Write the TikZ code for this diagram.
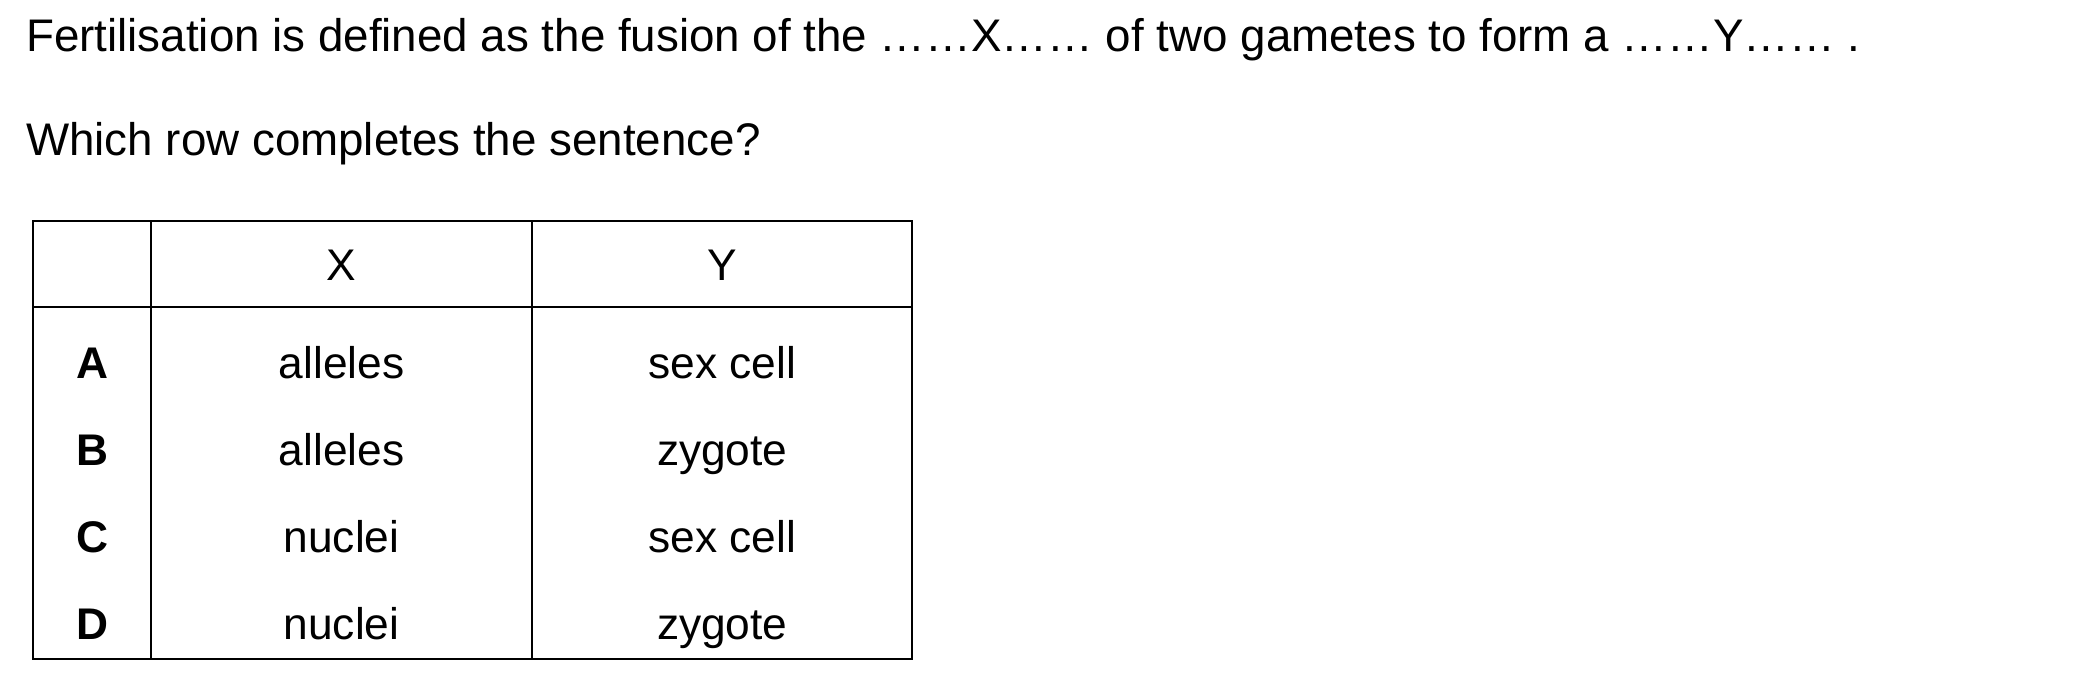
\documentclass[tikz,border=0pt]{standalone}
\usepackage{fontspec}
\setmainfont{Liberation Sans}
\usetikzlibrary{positioning}

\begin{document}
\begin{tikzpicture}[x=0.01cm,y=-0.01cm,
	every node/.style={font=\fontsize{12.6}{15}\selectfont,inner sep=0pt},
	line/.style={font=\fontsize{13}{15}\selectfont,anchor=base west},
	rule/.style={line width=0.57pt}]
	\useasboundingbox (0,0) rectangle (2100,680);
	% question text
	\node[line] (stem) at (25.5,52) {Fertilisation is defined as the fusion of the ……X…… of two gametes to form a ……Y…… .};
	\node[line] (ask) at (25.5,156) {Which row completes the sentence?};
	% table frame
	\draw[rule] (33.3,220.7) rectangle (912.3,659.3);
	\draw[rule] (33.3,306.7) -- (912.3,306.7);
	\draw[rule] (151,220.7) -- (151,659.3);
	\draw[rule] (532.3,220.7) -- (532.3,659.3);
	% header
	\node[anchor=base] (headX) at (341.5,281) {X};
	\node[anchor=base] (headY) at (722.3,281) {Y};
	% rows
	\foreach \lab/\xval/\yval [count=\i] in
		{A/alleles/sex cell,B/alleles/zygote,C/nuclei/sex cell,D/nuclei/zygote}
		{
		\node[anchor=base,font=\fontsize{12.6}{15}\selectfont\bfseries] (lab\i) at (92,{291.3+87*\i}) {\lab};
		\node[anchor=base] (x\i) at (341.5,{291.3+87*\i}) {\xval};
		\node[anchor=base] (y\i) at (722.3,{291.3+87*\i}) {\yval};
		}
\end{tikzpicture}
\end{document}
